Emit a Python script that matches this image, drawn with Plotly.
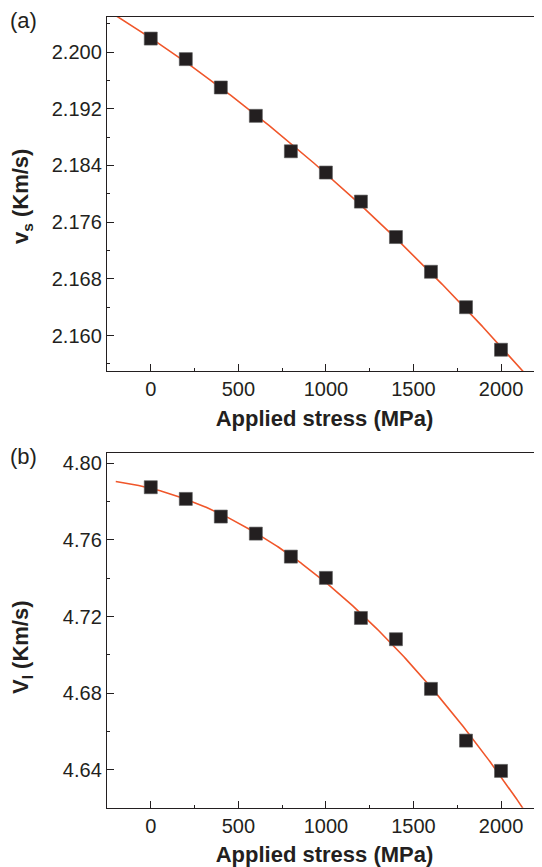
import numpy as np
import plotly.graph_objects as go
from plotly.subplots import make_subplots

# ---- data ----
stress = [0, 200, 400, 600, 800, 1000, 1200, 1400, 1600, 1800, 2000]
vs = [2.2019, 2.1990, 2.1950, 2.1910, 2.1860, 2.1830, 2.1789, 2.1739, 2.1690, 2.1640, 2.1580]
vl = [4.7875, 4.7814, 4.7722, 4.7633, 4.7513, 4.7402, 4.7193, 4.7082, 4.6823, 4.6553, 4.6395]
fit_start = -200
fit_end = 2250

x_range = [-250, 2234]
vs_range = [2.155, 2.205]
vl_range = [4.6203, 4.8052]

MARK = "#231f20"
LINE = "#f0562a"
TXT = "#231f20"
FONT = "Liberation Sans, Arial, sans-serif"

# page has an 8px body margin; figure sized to fit the window
OFF = 8
W, H = 542 - OFF, 867 - OFF


def px_y(p):
    return 1 - (p - OFF) / H


fig = make_subplots(rows=2, cols=1)

xf = np.linspace(fit_start, fit_end, 300)
for row, yv in ((1, vs), (2, vl)):
    coef = np.polyfit(stress, yv, 2)
    fig.add_trace(go.Scatter(x=xf, y=np.polyval(coef, xf), mode="lines",
                             line=dict(color=LINE, width=1.6), showlegend=False,
                             hoverinfo="skip"), row=row, col=1)
    fig.add_trace(go.Scatter(x=stress, y=yv, mode="markers",
                             marker=dict(symbol="square", size=13, color=MARK,
                                         line=dict(color="#555555", width=0.6)),
                             showlegend=False, cliponaxis=False), row=row, col=1)

xcommon = dict(range=x_range, tick0=0, dtick=500, ticks="inside", ticklen=7,
               tickwidth=1.3, tickcolor="#231f20", showline=True, linecolor="#231f20",
               linewidth=1.4, mirror=True, showgrid=False, zeroline=False,
               automargin=False,
               tickfont=dict(family=FONT, size=20, color=TXT),
               minor=dict(ticks="inside", ticklen=3, dtick=250, tick0=0,
                          tickcolor="#231f20", tickwidth=1),
               title=dict(text="<b>Applied stress (MPa)</b>",
                          font=dict(family=FONT, size=22, color=TXT), standoff=11))
ycommon = dict(ticks="inside", ticklen=7, tickwidth=1.3, tickcolor="#231f20",
               showline=True, linecolor="#231f20", linewidth=1.4, mirror=False,
               showgrid=False, zeroline=False, automargin=False,
               tickfont=dict(family=FONT, size=20, color=TXT))

xdom = [(107 - OFF) / W, 1]
fig.update_layout(
    width=W, height=H,
    margin=dict(l=0, r=0, t=0, b=0),
    paper_bgcolor="white", plot_bgcolor="white",
    xaxis=dict(domain=xdom, anchor="y", **xcommon),
    xaxis2=dict(domain=xdom, anchor="y2", **xcommon),
    yaxis=dict(domain=[px_y(371), px_y(16.6)], anchor="x", range=vs_range,
               tick0=2.16, dtick=0.008, tickformat=".3f",
               minor=dict(ticks="inside", ticklen=3, dtick=0.004, tick0=2.16,
                          tickcolor="#231f20", tickwidth=1), **ycommon),
    yaxis2=dict(domain=[px_y(807.7), px_y(453.3)], anchor="x2", range=vl_range,
                tick0=4.64, dtick=0.04, tickformat=".2f",
                minor=dict(ticks="inside", ticklen=3, dtick=0.02, tick0=4.64,
                           tickcolor="#231f20", tickwidth=1), **ycommon),
)

ann = dict(xref="paper", yref="paper", showarrow=False, xanchor="center", yanchor="middle")
labels = [
    ("<b>v<sub>s</sub> (Km/s)</b>", 22, 197, -90),
    ("<b>V<sub>l</sub> (Km/s)</b>", 22, 647, -90),
    ("(a)", 23, 20, 0),
    ("(b)", 23, 457, 0),
]
for text, px, py, ang in labels:
    fig.add_annotation(text=text, textangle=ang, x=(px - OFF) / W, y=px_y(py),
                       font=dict(family=FONT, size=22, color=TXT), **ann)

fig.write_html("out.html")
